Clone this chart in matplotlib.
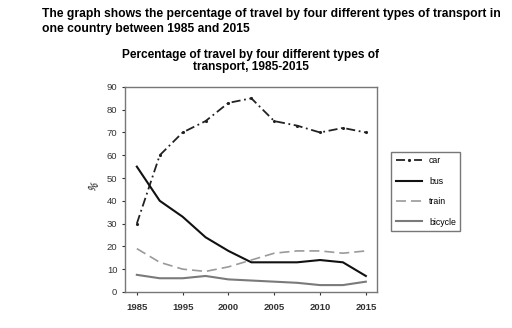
import numpy as np
import matplotlib
matplotlib.use("Agg")
from matplotlib import pyplot as plt

plt.rcParams['font.family'] = ['Liberation Sans', 'DejaVu Sans']

# positions on the category axis (half steps between labelled years)
pos = [0, 0.5, 1, 1.5, 2, 2.5, 3, 3.5, 4, 4.5, 5]
year_labels = ['1985', '1995', '2000', '2005', '2010', '2015']

car = [30, 60, 70, 75, 83, 85, 75, 73, 70, 72, 70]
bus = [55, 40, 33, 24, 18, 13, 13, 13, 14, 13, 7]
train = [19, 13, 10, 9, 11, 14, 17, 18, 18, 17, 18]
bicycle = [7.5, 6, 6, 7, 5.5, 5, 4.5, 4, 3, 3, 4.5]

fig = plt.figure(figsize=(5.12, 3.28), dpi=100)

fig.text(0.082, 0.958, 'The graph shows the percentage of travel by four different types of transport in',
         fontsize=8.7, fontweight='bold', va='center', ha='left')
fig.text(0.082, 0.912, 'one country between 1985 and 2015',
         fontsize=8.7, fontweight='bold', va='center', ha='left')

ax = fig.add_axes([0.244, 0.11, 0.492, 0.625])
ax.set_title('Percentage of travel by four different types of\ntransport, 1985-2015',
             fontsize=8.6, fontweight='bold', pad=12, linespacing=1.05)

ax.plot(pos, car, color='#222222', lw=1.3, ls=(0, (5, 2, 1, 2)), marker='.', ms=2.5, label='car')
ax.plot(pos, bus, color='#111111', lw=1.5, label='bus')
ax.plot(pos, train, color='#9a9a9a', lw=1.2, ls=(0, (6, 3)), label='train')
ax.plot(pos, bicycle, color='#7a7a7a', lw=1.5, label='bicycle')

ax.set_xlim(-0.26, 5.24)
ax.set_ylim(0, 90)
ax.set_yticks(range(0, 91, 10))
ax.set_xticks(range(len(year_labels)))
ax.set_xticklabels(year_labels, fontweight='bold')
ax.tick_params(labelsize=6.8, length=2, colors='#333333')
ax.tick_params(axis='x', pad=6)
ax.set_ylabel('%', fontsize=7, rotation=60, labelpad=6)

for s in ax.spines.values():
    s.set_color('#777777')
    s.set_linewidth(1.0)

leg = ax.legend(loc='center left', bbox_to_anchor=(1.04, 0.49), fontsize=6.3,
                frameon=True, fancybox=False, edgecolor='#555555',
                handlelength=3.0, labelspacing=1.3, borderpad=0.5)
leg.get_frame().set_linewidth(1.0)

fig.savefig('out.png', dpi=100)
